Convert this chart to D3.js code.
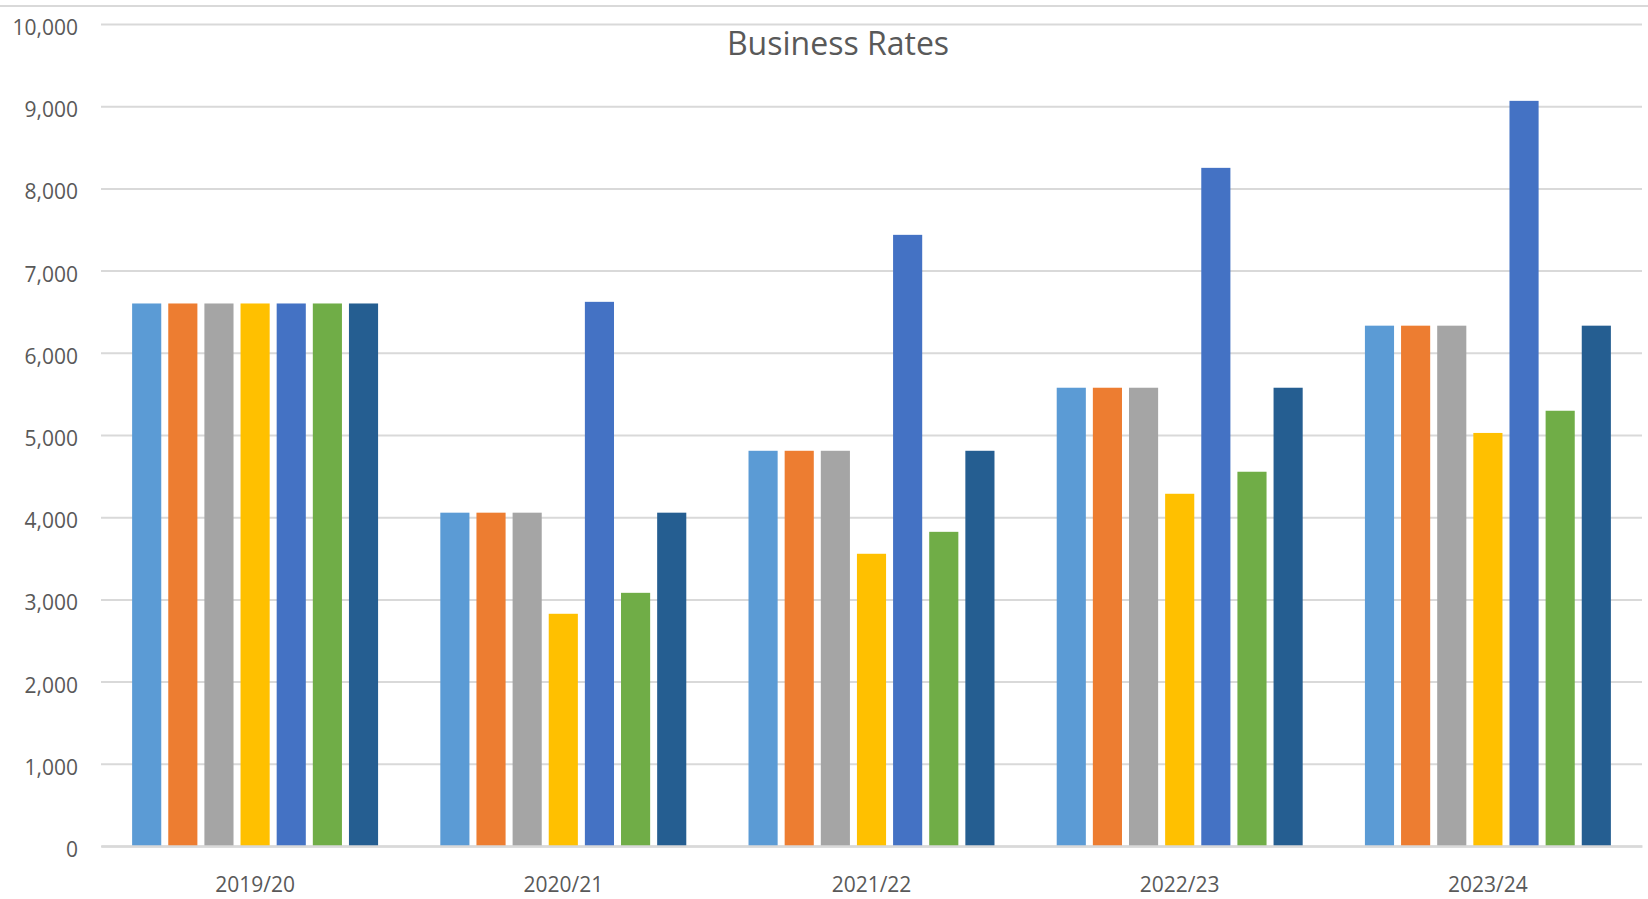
<!DOCTYPE html>
<html>
<head>
<meta charset="utf-8">
<script src="https://cdn.jsdelivr.net/npm/d3@7"></script>
<style>
  html, body { margin: 0; padding: 0; background: #ffffff; }
  svg { display: block; font-family: "Open Sans", "Noto Sans", sans-serif; }
</style>
</head>
<body>
<svg id="chart" width="1648" height="899"></svg>
<script>
// Financial years on the category axis
const years = ["2019/20", "2020/21", "2021/22", "2022/23", "2023/24"];

// Seven series, one value per year
const series = ["S1", "S2", "S3", "S4", "S5", "S6", "S7"];
const s1 = [6600, 4055, 4808, 5575, 6330];
const s2 = [6600, 4055, 4808, 5575, 6330];
const s3 = [6600, 4055, 4808, 5575, 6330];
const s4 = [6600, 2825, 3555, 4285, 5025];
const s5 = [6600, 6620, 7435, 8250, 9065];
const s6 = [6600, 3080, 3822, 4553, 5295];
const s7 = [6600, 4055, 4808, 5575, 6330];
const seriesValues = [s1, s2, s3, s4, s5, s6, s7];

const colors = ["#5B9BD5", "#ED7D31", "#A5A5A5", "#FFC000", "#4472C4", "#70AD47", "#255E91"];

// Value axis ticks
const yTicks = [0, 1000, 2000, 3000, 4000, 5000, 6000, 7000, 8000, 9000, 10000];

const FONT = '"Open Sans", "Noto Sans", sans-serif';
const svg = d3.select("#chart");
const W = 1648, H = 899;
const plot = { left: 101, right: 1642, top: 24, bottom: 846 };

const x0 = d3.scaleBand().domain(years).range([plot.left, plot.right]).padding(0);
const x1 = d3.scaleBand().domain(series).range([0, x0.bandwidth()])
  .paddingInner(0.194).paddingOuter(0.861);
const y = d3.scaleLinear().domain([0, 10000]).range([plot.bottom, plot.top]);

// Outer frame line along the top
svg.append("line")
  .attr("x1", 0).attr("x2", W).attr("y1", 6).attr("y2", 6)
  .attr("stroke", "#d9d9d9").attr("stroke-width", 2);

// Horizontal gridlines
const yAxis = d3.axisLeft(y).tickValues(yTicks)
  .tickFormat(d3.format(","))
  .tickSize(-(plot.right - plot.left)).tickPadding(23);
const gy = svg.append("g").attr("transform", `translate(${plot.left},0)`).call(yAxis)
  .attr("font-family", FONT);
gy.select(".domain").remove();
gy.selectAll(".tick line").attr("stroke", "#d9d9d9").attr("stroke-width", 2);
gy.selectAll(".tick text")
  .attr("fill", "#595959").attr("font-size", 21).attr("dy", "0.5em");

// Title
svg.append("text")
  .attr("x", 838).attr("y", 55)
  .attr("text-anchor", "middle")
  .attr("font-family", FONT)
  .attr("font-size", 32)
  .attr("fill", "#595959")
  .text("Business Rates");

// Bars
const groups = svg.append("g").selectAll("g")
  .data(years)
  .join("g")
  .attr("transform", d => `translate(${x0(d)},0)`);

groups.selectAll("rect")
  .data((yr, i) => series.map((s, j) => ({ s, v: seriesValues[j][i], c: colors[j] })))
  .join("rect")
  .attr("x", d => x1(d.s))
  .attr("width", x1.bandwidth())
  .attr("y", d => y(d.v))
  .attr("height", d => y(0) - y(d.v))
  .attr("fill", d => d.c);

// Category axis
const xAxis = d3.axisBottom(x0).tickSize(0).tickPadding(31);
const gx = svg.append("g").attr("transform", `translate(0,${plot.bottom})`).call(xAxis)
  .attr("font-family", FONT);
gx.select(".domain").attr("stroke", "#d9d9d9").attr("stroke-width", 2.5);
gx.selectAll(".tick text").attr("fill", "#595959").attr("font-size", 21).attr("dy", "0.71em");
</script>
</body>
</html>
